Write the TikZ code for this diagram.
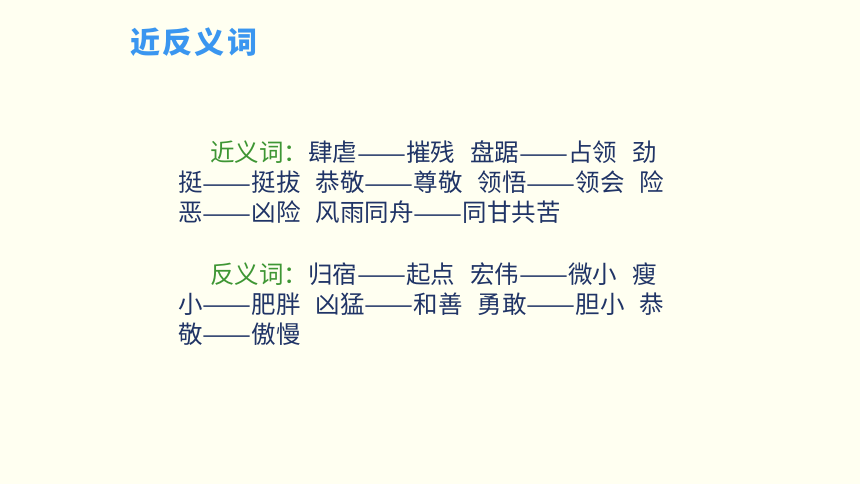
\documentclass[tikz,border=0pt]{standalone}
\usepackage{fontspec}
\usepackage{xcolor}
\usepackage{graphicx}
\newfontfamily\cjk{Noto Sans CJK SC}
\definecolor{TitleBlue}{RGB}{58,150,240}
\definecolor{LeafGreen}{RGB}{62,150,52}
\definecolor{InkBlue}{RGB}{32,52,102}
\definecolor{Paper}{RGB}{255,255,241}
\newcommand{\gap}{\hspace{15pt}}
\newcommand{\pairdash}{\resizebox{2em}{\height}{——}}

\begin{document}
\begin{tikzpicture}[x=1pt,y=-1pt,
  heading/.style={anchor=base west, inner sep=0pt, text=TitleBlue,
    font=\cjk\bfseries\fontsize{30}{30}\selectfont\addfontfeature{LetterSpace=8}},
  textline/.style={anchor=base west, inner sep=0pt, text=InkBlue,
    font=\cjk\fontsize{24.5}{24.5}\selectfont}]
\fill[Paper] (0,0) rectangle (860,484);
\useasboundingbox (0,0) rectangle (860,484);
%
\node[heading] (title) at (130,54) {近反义词};
%
\node[textline] (syn1) at (210,162) {{\color{LeafGreen}近义词：}肆虐\pairdash 摧残\gap 盘踞\pairdash 占领\gap 劲};
\node[textline] (syn2) at (178,192) {挺\pairdash 挺拔\gap 恭敬\pairdash 尊敬\gap 领悟\pairdash 领会\gap 险};
\node[textline] (syn3) at (178,222) {恶\pairdash 凶险\gap 风雨同舟\pairdash 同甘共苦};
%
\node[textline] (ant1) at (210,283) {{\color{LeafGreen}反义词：}归宿\pairdash 起点\gap 宏伟\pairdash 微小\gap 瘦};
\node[textline] (ant2) at (178,313) {小\pairdash 肥胖\gap 凶猛\pairdash 和善\gap 勇敢\pairdash 胆小\gap 恭};
\node[textline] (ant3) at (178,343) {敬\pairdash 傲慢};
\end{tikzpicture}
\end{document}
